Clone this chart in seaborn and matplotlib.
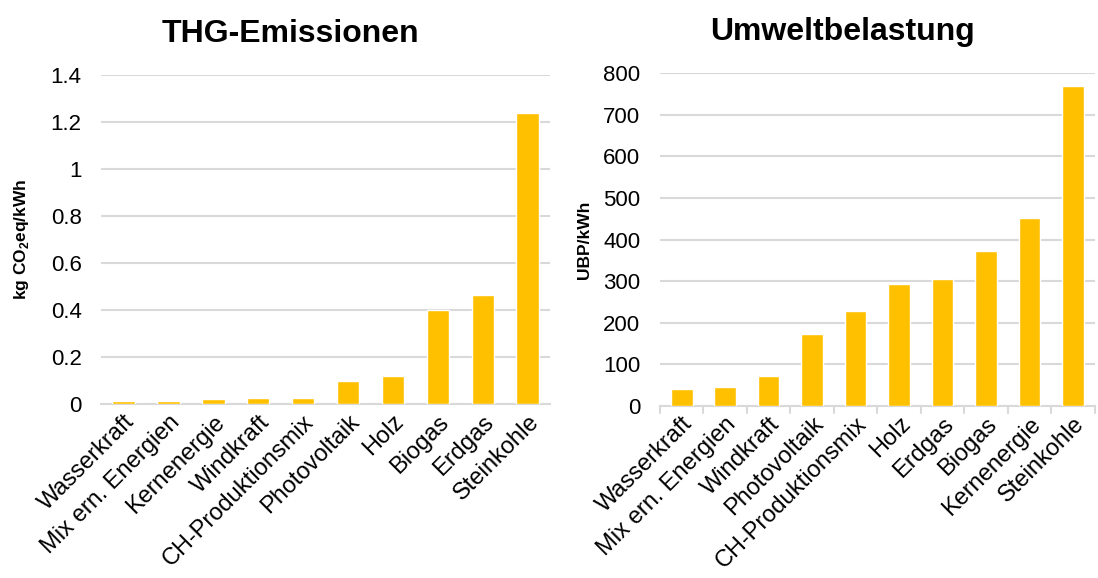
import pandas as pd
import matplotlib.pyplot as plt
import seaborn as sns

# Daten
thg_kategorien = ['Wasserkraft', 'Mix ern. Energien', 'Kernenergie', 'Windkraft',
                  'CH-Produktionsmix', 'Photovoltaik', 'Holz', 'Biogas', 'Erdgas', 'Steinkohle']
thg_werte = [0.011, 0.013, 0.021, 0.025, 0.026, 0.098, 0.118, 0.402, 0.465, 1.24]

ubp_kategorien = ['Wasserkraft', 'Mix ern. Energien', 'Windkraft', 'Photovoltaik',
                  'CH-Produktionsmix', 'Holz', 'Erdgas', 'Biogas', 'Kernenergie', 'Steinkohle']
ubp_werte = [42, 46, 73, 174, 228, 293, 306, 373, 452, 768]

thg_ticks = [0, 0.2, 0.4, 0.6, 0.8, 1, 1.2, 1.4]
thg_ticklabels = ['0', '0.2', '0.4', '0.6', '0.8', '1', '1.2', '1.4']
ubp_ticks = [0, 100, 200, 300, 400, 500, 600, 700, 800]

sns.set_theme(style="white")
plt.rcParams['font.family'] = ['Liberation Sans', 'DejaVu Sans']
plt.rcParams['text.color'] = 'black'
plt.rcParams['xtick.color'] = 'black'
plt.rcParams['ytick.color'] = 'black'
plt.rcParams['axes.labelcolor'] = 'black'

farbe = '#FFC000'
grau = '#d9d9d9'

fig = plt.figure(figsize=(10.98, 5.78), dpi=100)
ax1 = fig.add_axes([0.092, 0.301, 0.409, 0.569])
ax2 = fig.add_axes([0.601, 0.2976, 0.396, 0.576])

df1 = pd.DataFrame({'Kategorie': thg_kategorien, 'Wert': thg_werte})
df2 = pd.DataFrame({'Kategorie': ubp_kategorien, 'Wert': ubp_werte})

sns.barplot(data=df1, x='Kategorie', y='Wert', color=farbe, width=0.5,
            saturation=1, ax=ax1, zorder=3)
sns.barplot(data=df2, x='Kategorie', y='Wert', color=farbe, width=0.5,
            saturation=1, ax=ax2, zorder=3)

for ax in (ax1, ax2):
    for s in ['top', 'right', 'left']:
        ax.spines[s].set_visible(False)
    ax.spines['bottom'].set_color(grau)
    ax.spines['bottom'].set_linewidth(1.5)
    ax.yaxis.grid(True, color=grau, linewidth=1.5, zorder=0)
    ax.set_axisbelow(True)
    ax.set_xlim(-0.5, 9.5)
    ax.set_xlabel('')
    ax.tick_params(axis='y', labelsize=16, length=0, pad=14)
    ax.set_xticks(range(10))
    ax.tick_params(axis='x', labelsize=17, length=0, pad=5)
    for lbl in ax.get_xticklabels():
        lbl.set_rotation(45)
        lbl.set_ha('right')
        lbl.set_rotation_mode('anchor')

ax1.set_ylim(0, 1.4)
ax1.set_yticks(thg_ticks)
ax1.set_yticklabels(thg_ticklabels)
ax1.set_ylabel('kg CO$_\\mathregular{2}$eq/kWh', fontsize=12.5, fontweight='bold', labelpad=14)
ax1.set_title('THG-Emissionen', fontsize=23, fontweight='bold', x=0.422, pad=24)

ax2.set_ylim(0, 800)
ax2.set_yticks(ubp_ticks)
ax2.set_ylabel('UBP/kWh', fontsize=12.5, fontweight='bold', labelpad=8)
ax2.set_title('Umweltbelastung', fontsize=23, fontweight='bold', x=0.42, pad=24)

# Trennstriche auf der x-Achse (rechtes Diagramm)
for xpos in [i - 0.5 for i in range(11)]:
    ax2.plot([xpos, xpos], [0, -0.02], transform=ax2.get_xaxis_transform(),
             color=grau, linewidth=1.5, clip_on=False)

fig.savefig('out.png', dpi=100)
